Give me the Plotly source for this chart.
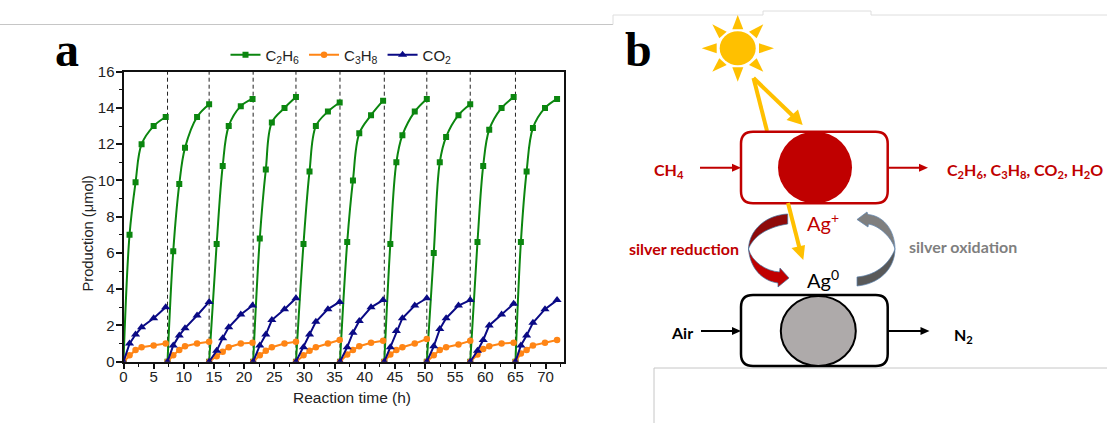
import plotly.graph_objects as go

W, H = 1107, 423

# ---------- panel a data ----------
dash_times = [7.3, 14.2, 21.5, 28.6, 35.9, 43.25, 50.3, 57.5, 65.0]
times = [
    [0, 1.0, 2.0, 3.0, 5.0, 7.0],
    [7.3, 8.25, 9.25, 10.2, 12.2, 14.2],
    [14.2, 15.45, 16.45, 17.45, 19.45, 21.4],
    [21.5, 22.6, 23.6, 24.6, 26.7, 28.6],
    [28.6, 29.85, 30.85, 31.9, 33.9, 35.85],
    [35.9, 37.1, 38.05, 39.1, 41.05, 43.05],
    [43.25, 44.25, 45.25, 46.25, 48.3, 50.3],
    [50.3, 51.45, 52.45, 53.5, 55.55, 57.5],
    [57.5, 58.7, 59.65, 60.65, 62.7, 64.7],
    [65.0, 65.9, 66.85, 67.9, 69.9, 71.9],
]
c2h6 = [
    [0, 7.0, 9.9, 12.0, 13.0, 13.5],
    [0, 6.1, 9.8, 11.8, 13.5, 14.2],
    [0, 6.5, 10.8, 13.0, 14.1, 14.5],
    [0, 6.8, 10.6, 13.2, 14.0, 14.6],
    [0, 6.5, 10.5, 13.0, 13.8, 14.3],
    [0, 6.6, 10.0, 12.6, 13.6, 14.4],
    [0, 6.5, 11.0, 12.5, 13.8, 14.5],
    [0, 6.0, 11.0, 12.4, 13.6, 14.2],
    [0, 6.6, 10.8, 12.8, 14.0, 14.6],
    [0, 6.6, 10.5, 12.9, 14.0, 14.5],
]
c3h8 = [
    [0, 0.35, 0.65, 0.8, 0.9, 1.0],
    [0, 0.35, 0.65, 0.85, 1.0, 1.1],
    [0, 0.3, 0.55, 0.8, 1.0, 1.05],
    [0, 0.35, 0.6, 0.8, 1.0, 1.1],
    [0, 0.35, 0.6, 0.8, 1.0, 1.2],
    [0, 0.4, 0.65, 0.85, 1.05, 1.15],
    [0, 0.4, 0.65, 0.8, 1.0, 1.25],
    [0, 0.35, 0.65, 0.8, 0.95, 1.15],
    [0, 0.4, 0.7, 0.85, 1.0, 1.05],
    [0, 0.45, 0.65, 0.9, 1.05, 1.2],
]
co2 = [
    [0, 1.0, 1.5, 1.9, 2.4, 3.0],
    [0, 0.9, 1.45, 1.85, 2.55, 3.3],
    [0, 0.6, 1.3, 1.9, 2.6, 3.1],
    [0, 0.9, 1.5, 2.3, 2.9, 3.5],
    [0, 0.8, 1.5, 2.2, 2.9, 3.3],
    [0, 0.8, 1.6, 2.25, 3.0, 3.4],
    [0, 0.8, 1.7, 2.4, 3.1, 3.5],
    [0, 0.85, 1.8, 2.4, 3.1, 3.4],
    [0, 0.6, 1.2, 2.0, 2.6, 3.2],
    [0, 0.9, 1.45, 2.15, 2.9, 3.4],
]
x_ticks = [0, 5, 10, 15, 20, 25, 30, 35, 40, 45, 50, 55, 60, 65, 70]
y_ticks = [0, 2, 4, 6, 8, 10, 12, 14, 16]


def joined(rows):
    out = []
    for r in rows:
        out += list(r) + [None]
    return out


# ---------- pixel helpers for the diagram ----------
def X(px):
    return px / W


def Y(py):
    return 1 - py / H


def path(d, fill=None, color=None, width=0):
    parts = []
    for tok in d.split():
        if "," in tok:
            a, b = tok.split(",")
            parts.append(f"{X(float(a)):.5f},{Y(float(b)):.5f}")
        else:
            parts.append(tok)
    s = dict(type="path", xref="paper", yref="paper", path=" ".join(parts),
             line=dict(color=color or "rgba(0,0,0,0)", width=width))
    if fill:
        s["fillcolor"] = fill
    return s


def seg(x0, y0, x1, y1, color, width):
    return dict(type="line", xref="paper", yref="paper", x0=X(x0), y0=Y(y0), x1=X(x1), y1=Y(y1),
                line=dict(color=color, width=width))


def poly(pts, fill):
    return path("M " + " L ".join(f"{a},{b}" for a, b in pts) + " Z", fill=fill)


def oval(cx, cy, rx, ry, fill, color=None, width=0):
    return dict(type="circle", xref="paper", yref="paper", x0=X(cx - rx), x1=X(cx + rx),
                y0=Y(cy + ry), y1=Y(cy - ry), fillcolor=fill,
                line=dict(color=color or fill, width=width))


def rbox(x0, y0, x1, y1, r, color, width):
    d = (f"M {x0+r},{y0} L {x1-r},{y0} Q {x1},{y0} {x1},{y0+r} L {x1},{y1-r} Q {x1},{y1} {x1-r},{y1} "
         f"L {x0+r},{y1} Q {x0},{y1} {x0},{y1-r} L {x0},{y0+r} Q {x0},{y0} {x0+r},{y0} Z")
    return path(d, fill="white", color=color, width=width)


def harrow(x0, x1, y, color):
    return [seg(x0, y, x1 - 6, y, color, 2), poly([(x1, y), (x1 - 9, y - 4), (x1 - 9, y + 4)], color)]


YEL = "#FFC000"
RED = "#C00000"
shapes = []
# page-edge lines
GL = "#c6c6c6"
shapes += [seg(0, 24.5, 613, 24.5, GL, 1), seg(613, 15, 613, 24.5, "#dedede", 1),
           seg(613, 15, 763, 15, "#dedede", 1), seg(763, 11, 763, 15, "#dedede", 1),
           seg(763, 11, 871, 11, "#dedede", 1), seg(871, 11, 871, 15, "#dedede", 1),
           seg(871, 15, 1107, 15, "#dedede", 1), seg(654, 368, 1107, 368, GL, 1),
           seg(654, 368, 654, 423, GL, 1)]
# sun
shapes.append(oval(737.7, 48.3, 18, 17, YEL))
rays = [[(737.7, 15), (732.3, 29.3), (743.3, 29.3)], [(737.7, 81.7), (732.3, 67.3), (743.3, 67.3)],
        [(774, 48.3), (759, 43.3), (759, 53.3)], [(701.7, 48.3), (716.7, 43.3), (716.7, 53.3)],
        [(763.3, 24.3), (749, 31.7), (756.7, 38.3)], [(712.3, 24.3), (726.7, 31.7), (719.3, 38.3)],
        [(763.3, 71.7), (749, 65), (756.7, 58.3)], [(712.3, 71.7), (726.7, 65), (719.3, 58.3)]]
shapes += [poly(r, YEL) for r in rays]
# yellow light path
shapes += [seg(753.5, 78, 767, 131, YEL, 4), seg(753.5, 78, 794, 117, YEL, 4),
           poly([(802.7, 125), (786.5, 120), (798, 109.5)], YEL)]
# red reactor
shapes += harrow(700, 741, 167.7, RED) + harrow(888, 928, 167.7, RED)
shapes.append(rbox(741, 131.7, 887.7, 203.3, 12, RED, 2.5))
shapes.append(oval(815, 167.5, 37, 36, RED))
# yellow transmitted ray
shapes += [seg(788, 203, 800, 250, YEL, 4), poly([(803.3, 260), (791.5, 248), (805, 245)], YEL)]
# curved arrows (silver reduction, silver oxidation)
shapes.append(path("M 787.7,214 C 766,215 749,230 748.5,249 C 752,240 762,228 787.7,224 Z",
                   fill="#8E0A0A", color="#41719C", width=0.7))
shapes.append(path("M 748.5,249 C 750,268 762,281 778,283 L 778,287 L 789,278 L 780,268 L 779.5,272 "
                   "C 766,271 752,262 748.5,249 Z", fill=RED, color="#41719C", width=0.7))
shapes.append(path("M 857,286 C 880,284 895,268 895,249 C 890,262 878,275 857,277 Z",
                   fill="#595959", color="#5B83AE", width=0.7))
shapes.append(path("M 895,249 C 895,232 885,216 868,214.5 L 867,212 L 857,219.5 L 868,227 L 868.5,224 "
                   "C 880,226 892,238 895,249 Z", fill="#7F7F7F", color="#5B83AE", width=0.7))
# black reactor
shapes += harrow(701, 741, 331, "black") + harrow(888, 929.5, 331, "black")
shapes.append(rbox(741, 295, 887.7, 366, 12, "black", 2.5))
shapes.append(oval(818.3, 331, 37.5, 35, "#AEAAAA", "black", 2))


def note(px, py, text, size, color, family="Lato", bold=False, angle=0):
    if bold:
        text = f"<b>{text}</b>"
    return dict(x=X(px), y=Y(py), xref="paper", yref="paper", text=text, showarrow=False, textangle=angle,
                font=dict(size=size, color=color, family=family), xanchor="center", yanchor="middle")


annotations = [
    note(66.5, 50, "a", 48, "black", "Liberation Serif", True),
    note(638, 49, "b", 48, "black", "Liberation Serif", True),
    note(669, 170, "CH<sub>4</sub>", 16, RED, bold=True),
    note(1024.5, 170, "C<sub>2</sub>H<sub>6</sub>, C<sub>3</sub>H<sub>8</sub>, CO<sub>2</sub>, H<sub>2</sub>O", 16, RED, bold=True),
    note(823, 222, "Ag<sup>+</sup>", 20, RED),
    note(823, 279, "Ag<sup>0</sup>", 20, "black"),
    note(683.5, 249, "silver reduction", 16, RED, bold=True),
    note(963, 247, "silver oxidation", 16, "#7F7F7F", bold=True),
    note(681.5, 332.5, "Air", 16, "black", bold=True),
    note(963, 335, "N<sub>2</sub>", 16, "black", bold=True),
    note(351.5, 397, "Reaction time (h)", 15.5, "#222", "Liberation Sans"),
    note(87.5, 234, "Production (μmol)", 14.7, "#222", "Liberation Sans", angle=-90),
]

fig = go.Figure()
dash_x, dash_y = [], []
for t in dash_times:
    dash_x += [t, t, None]
    dash_y += [0, 16, None]
fig.add_trace(go.Scatter(x=dash_x, y=dash_y, mode="lines", showlegend=False, hoverinfo="skip",
                         line=dict(color="#222", width=1, dash="4px,3px")))
tx = joined(times)
fig.add_trace(go.Scatter(x=tx, y=joined(c2h6), mode="lines+markers", name="C<sub>2</sub>H<sub>6</sub>",
                         line=dict(color="#0B860F", width=2, shape="spline", smoothing=1),
                         marker=dict(symbol="square", size=6, color="#0B860F")))
fig.add_trace(go.Scatter(x=tx, y=joined(c3h8), mode="lines+markers", name="C<sub>3</sub>H<sub>8</sub>",
                         line=dict(color="#FF8515", width=2),
                         marker=dict(symbol="circle", size=6.5, color="#FF8515")))
fig.add_trace(go.Scatter(x=tx, y=joined(co2), mode="lines+markers", name="CO<sub>2</sub>",
                         line=dict(color="#0A0A85", width=2),
                         marker=dict(symbol="triangle-up", size=8, color="#0A0A85")))

axis_font = dict(family="Liberation Sans", size=15, color="#222")
fig.update_layout(
    width=W, height=H, margin=dict(l=0, r=0, t=0, b=0, autoexpand=False),
    paper_bgcolor="white", plot_bgcolor="white",
    font=axis_font, shapes=shapes, annotations=annotations,
    legend=dict(orientation="h", x=341 / W, xanchor="center", y=1 - 55 / H, yanchor="middle",
                font=dict(family="Liberation Sans", size=15, color="#222"),
                bgcolor="rgba(0,0,0,0)", itemwidth=30, tracegroupgap=0),
    xaxis=dict(domain=[123.5 / W, 564.3 / W], range=[0, 73.1], tickmode="array", tickvals=x_ticks,
               ticks="outside", ticklen=5, tickwidth=1.5, tickcolor="#111", showline=True, linewidth=2,
               linecolor="#111", mirror=True, showgrid=False, zeroline=False, ticklabelstandoff=-5,
               minor=dict(dtick=2.5, ticks="outside", ticklen=3, tickwidth=1.2, tickcolor="#111", showgrid=False)),
    yaxis=dict(domain=[1 - 361.7 / H, 1 - 71.7 / H], range=[0, 16], tickmode="array", tickvals=y_ticks,
               ticks="outside", ticklen=6, tickwidth=1.5, tickcolor="#111", showline=True, linewidth=2,
               linecolor="#111", mirror=True, showgrid=False, zeroline=False, ticklabelstandoff=-2,
               minor=dict(dtick=1, ticks="outside", ticklen=3, tickwidth=1.2, tickcolor="#111", showgrid=False)),
)
fig.write_html("out.html", config=dict(displayModeBar=False),
               post_script="document.body.style.margin='0';document.documentElement.style.overflow='hidden';")
